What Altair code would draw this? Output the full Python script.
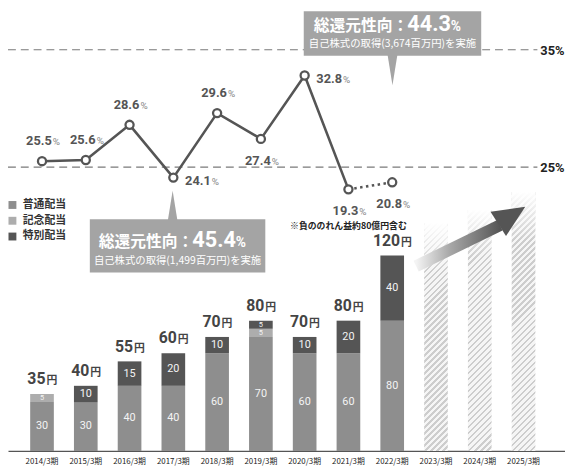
import math
import altair as alt
import pandas as pd

# ---------------- data ----------------
years = ["2014/3期", "2015/3期", "2016/3期", "2017/3期", "2018/3期", "2019/3期",
         "2020/3期", "2021/3期", "2022/3期", "2023/3期", "2024/3期", "2025/3期"]
actual_years = years[:9]
forecast_years = years[9:]

series = ["普通配当", "記念配当", "特別配当"]
regular = [30, 30, 40, 40, 60, 70, 60, 60, 80]
commemorative = [5, 0, 0, 0, 0, 5, 0, 0, 0]
special = [0, 10, 15, 20, 10, 5, 10, 20, 40]
totals = [35, 40, 55, 60, 70, 80, 70, 80, 120]

# heights (in yen units) of the hatched "future" bars, as drawn
forecast_heights = [140, 148, 159]

# payout ratio (%) – labels, and values as drawn (last two are drawn on a compressed axis)
payout = [25.5, 25.6, 28.6, 24.1, 29.6, 27.4, 32.8, 19.3, 20.8]
payout_drawn = [25.5, 25.6, 28.6, 24.1, 29.6, 27.4, 32.8, 23.1, 23.7]

ref_levels = [35, 25]
ref_labels = ["35%", "25%"]

note_text = "※負ののれん益約80億円含む"
callout_title = "総還元性向："
callout_values = ["44.3", "45.4"]
callout_subs = ["自己株式の取得(3,674百万円)を実施", "自己株式の取得(1,499百万円)を実施"]

# ---------------- style ----------------
JP = "Noto Sans CJK JP"
NUM = "Roboto"
colors = ["#8e8e8e", "#adadad", "#555555"]
W, H = 565, 446

xscale = alt.Scale(type="band", domain=years, paddingInner=0.4595,
                   paddingOuter=0.592, align=0.428)
yen = alt.Scale(domain=[0, 270], nice=False, zero=False)
pct = alt.Scale(domain=[0.80, 38.28], nice=False, zero=False)

xaxis = alt.Axis(labelAngle=0, labelFont=JP, labelFontSize=8, labelColor="#222",
                 ticks=False, domainColor="#555555", domainWidth=1.2,
                 labelPadding=7, grid=False, title=None)


def X():
    return alt.X("year:N", scale=xscale, axis=xaxis, title=None)


one = pd.DataFrame({"k": [0]})

# ---------------- tables ----------------
rows = []
for i, yr in enumerate(actual_years):
    base = 0
    for s, vals in zip(series, [regular, commemorative, special]):
        v = vals[i]
        if v > 0:
            rows.append(dict(year=yr, series=s, v=v, y0=base, y1=base + v,
                             mid=base + v / 2, lab=str(v)))
            base += v
seg = pd.DataFrame(rows)

tot = pd.DataFrame({"year": actual_years, "total": totals,
                    "num": [str(t) for t in totals]})

side = {"2014/3期": "above", "2015/3期": "above", "2016/3期": "above",
        "2017/3期": "right", "2018/3期": "above", "2019/3期": "below",
        "2020/3期": "right", "2021/3期": "below", "2022/3期": "below"}
line_df = pd.DataFrame({"year": actual_years, "pos": payout_drawn,
                        "lab": [f"{v:.1f}" for v in payout]})
line_df["side"] = line_df["year"].map(side)

fc = pd.DataFrame({"year": forecast_years, "h": forecast_heights})
fc["fade"] = fc["h"] - 30

refdf = pd.DataFrame({"lvl": ref_levels, "lab": ref_labels})

# ---------------- layers ----------------
layers = []

# dividend bars (first, so the axis & legend come from here)
layers.append(
    alt.Chart(seg).mark_bar().encode(
        x=X(),
        y=alt.Y("y1:Q", scale=yen, axis=None),
        y2="y0:Q",
        color=alt.Color("series:N", scale=alt.Scale(domain=series, range=colors),
                        legend=alt.Legend(title=None, orient="none", legendX=-1,
                                          legendY=191, symbolType="square",
                                          symbolSize=64, symbolStrokeWidth=0,
                                          labelFont=JP, labelFontSize=11,
                                          labelFontWeight="bold", labelColor="#333",
                                          rowPadding=4, padding=0, labelOffset=5)),
    )
)

# hatched forecast bars
px_per_yen = H / 270.0
bw = 24.0


def hatch_gradient(h_px, w_px=bw, period=4.3, frac=0.42,
                   dark="#cdcdcd", light="#f5f5f5"):
    r = h_px / w_px
    a = (1 + r) / (1 + r * r)
    D = (w_px + h_px) / math.sqrt(2)
    n = max(1, int(round(D / period)))
    stops = []
    for k in range(n):
        o0, o1, o2 = k / n, (k + frac) / n, (k + 1) / n
        stops += [{"offset": o0, "color": dark}, {"offset": o1, "color": dark},
                  {"offset": o1, "color": light}, {"offset": o2, "color": light}]
    return {"gradient": "linear", "x1": 0, "y1": 0, "x2": a, "y2": r * a,
            "stops": stops}


for yr, h in zip(forecast_years, forecast_heights):
    layers.append(
        alt.Chart(fc).transform_filter(alt.datum.year == yr)
        .mark_bar(fill=hatch_gradient(h * px_per_yen))
        .encode(x=X(), y=alt.Y("h:Q", scale=yen, axis=None), y2=alt.datum(0))
    )

fade = {"gradient": "linear", "x1": 0, "y1": 0, "x2": 0, "y2": 1,
        "stops": [{"offset": 0, "color": "rgba(255,255,255,1)"},
                  {"offset": 1, "color": "rgba(255,255,255,0)"}]}
layers.append(
    alt.Chart(fc).mark_bar(fill=fade)
    .encode(x=X(), y=alt.Y("h:Q", scale=yen, axis=None), y2="fade:Q")
)

# arrow
arrow_grad = {"gradient": "linear", "x1": 0, "y1": 0, "x2": 1, "y2": 0,
              "stops": [{"offset": 0, "color": "#f4f4f4"},
                        {"offset": 0.4, "color": "#a8a8a8"},
                        {"offset": 1, "color": "#565656"}]}
layers.append(
    alt.Chart(one).mark_rule(stroke=arrow_grad, strokeWidth=12, strokeCap="butt")
    .encode(x=alt.value(414), y=alt.value(258.5), x2=alt.value(499), y2=alt.value(217))
)
layers.append(
    alt.Chart(one).mark_point(shape="M1,0L-1,-0.9L-1,0.9Z", size=1056, filled=True,
                              fill="#555555", opacity=1, strokeWidth=0, angle=327.5)
    .encode(x=alt.value(511), y=alt.value(207))
)

# segment labels
layers.append(
    alt.Chart(seg).mark_text(font=NUM, color="#f4f4f4", baseline="middle").encode(
        x=X(), y=alt.Y("mid:Q", scale=yen, axis=None), text="lab:N",
        size=alt.condition("datum.v < 8", alt.value(7.5), alt.value(11)),
    )
)

# totals
for cond, dxn in [("datum.total < 100", 3.5), ("datum.total >= 100", 8)]:
    layers.append(
        alt.Chart(tot).transform_filter(cond)
        .mark_text(font=NUM, fontWeight="bold", fontSize=16, color="#444",
                   align="right", baseline="alphabetic", dx=dxn, dy=-10)
        .encode(x=X(), y=alt.Y("total:Q", scale=yen, axis=None), text="num:N")
    )
    layers.append(
        alt.Chart(tot).transform_filter(cond)
        .mark_text(text="円", font=JP, fontWeight="bold", fontSize=11, color="#444",
                   align="left", baseline="alphabetic", dx=dxn + 1, dy=-10)
        .encode(x=X(), y=alt.Y("total:Q", scale=yen, axis=None))
    )

# reference dashed lines
layers.append(
    alt.Chart(refdf).mark_rule(color="#7a7a7a", strokeDash=[8, 5], strokeWidth=1.2)
    .encode(y=alt.Y("lvl:Q", scale=pct, axis=None), x=alt.value(0), x2=alt.value(537))
)
layers.append(
    alt.Chart(refdf).mark_text(font=NUM, fontWeight="bold", fontSize=13, color="#222",
                               align="left", baseline="middle", dy=1)
    .encode(y=alt.Y("lvl:Q", scale=pct, axis=None), x=alt.value(540), text="lab:N")
)

# payout line
layers.append(
    alt.Chart(line_df.iloc[:8]).mark_line(color="#555555", strokeWidth=2.6)
    .encode(x=X(), y=alt.Y("pos:Q", scale=pct, axis=None))
)
layers.append(
    alt.Chart(line_df.iloc[7:9]).mark_line(color="#555555", strokeWidth=2.6,
                                           strokeDash=[2.5, 3.5])
    .encode(x=X(), y=alt.Y("pos:Q", scale=pct, axis=None))
)
layers.append(
    alt.Chart(line_df).mark_point(filled=True, fill="white", stroke="#555555",
                                  strokeWidth=2.3, size=68, opacity=1)
    .encode(x=X(), y=alt.Y("pos:Q", scale=pct, axis=None))
)

# point labels
placements = {"above": (10, -16), "below": (10, 26), "right": (38, 8)}
for sd, (dxn, dyn) in placements.items():
    layers.append(
        alt.Chart(line_df).transform_filter(alt.datum.side == sd)
        .mark_text(font=NUM, fontWeight="bold", fontSize=13, color="#555",
                   align="right", baseline="alphabetic", dx=dxn, dy=dyn)
        .encode(x=X(), y=alt.Y("pos:Q", scale=pct, axis=None), text="lab:N")
    )
    layers.append(
        alt.Chart(line_df).transform_filter(alt.datum.side == sd)
        .mark_text(text="%", font=NUM, fontSize=10, color="#888",
                   align="left", baseline="alphabetic", dx=dxn + 1, dy=dyn)
        .encode(x=X(), y=alt.Y("pos:Q", scale=pct, axis=None))
    )

# note under 2021
layers.append(
    alt.Chart(line_df).transform_filter(alt.datum.year == "2021/3期")
    .mark_text(text=note_text, font=JP, fontWeight="bold", fontSize=9, color="#222",
               align="center", baseline="alphabetic", dy=40)
    .encode(x=X(), y=alt.Y("pos:Q", scale=pct, axis=None))
)

# callouts
BOX = "#a4a4a4"
boxes = [
    dict(x0=300, x1=480, y0=0, y1=45, cx=390, ty=20, sy=36,
         px=390, py=60, shape="M-0.33,-1.05L0.33,-1.05L0,1Z"),
    dict(x0=83, x1=261, y0=211, y1=265, cx=172, ty=239, sy=256,
         px=167, py=197, shape="M-0.33,1.05L0.33,1.05L0,-1Z"),
]
for b, val, sub in zip(boxes, callout_values, callout_subs):
    layers.append(
        alt.Chart(one).mark_rect(color=BOX)
        .encode(x=alt.value(b["x0"]), x2=alt.value(b["x1"]),
                y=alt.value(b["y0"]), y2=alt.value(b["y1"]))
    )
    layers.append(
        alt.Chart(one).mark_point(shape=b["shape"], size=900, filled=True, fill=BOX,
                                  opacity=1, strokeWidth=0)
        .encode(x=alt.value(b["px"]), y=alt.value(b["py"]))
    )
    layers.append(
        alt.Chart(one).mark_text(text=callout_title, font=JP, fontWeight="bold",
                                 fontSize=16, color="white", align="right",
                                 baseline="alphabetic")
        .encode(x=alt.value(b["cx"] + 16), y=alt.value(b["ty"]))
    )
    layers.append(
        alt.Chart(one).mark_text(text=val, font=NUM, fontWeight="bold", fontSize=22,
                                 color="white", align="left", baseline="alphabetic")
        .encode(x=alt.value(b["cx"] + 15), y=alt.value(b["ty"]))
    )
    layers.append(
        alt.Chart(one).mark_text(text="%", font=NUM, fontWeight="bold", fontSize=14,
                                 color="white", align="left", baseline="alphabetic")
        .encode(x=alt.value(b["cx"] + 59), y=alt.value(b["ty"]))
    )
    layers.append(
        alt.Chart(one).mark_text(text=sub, font=JP, fontSize=10.5, color="white",
                                 align="center", baseline="alphabetic")
        .encode(x=alt.value(b["cx"]), y=alt.value(b["sy"]))
    )

chart = (
    alt.layer(*layers)
    .resolve_scale(y="independent")
    .properties(width=W, height=H, autosize=alt.AutoSizeParams(type="none"),
                padding={"left": 0, "top": 0, "right": 0, "bottom": 15})
    .configure_view(strokeWidth=0)
)

chart.save("out.html", embed_options={"renderer": "svg", "actions": False})
